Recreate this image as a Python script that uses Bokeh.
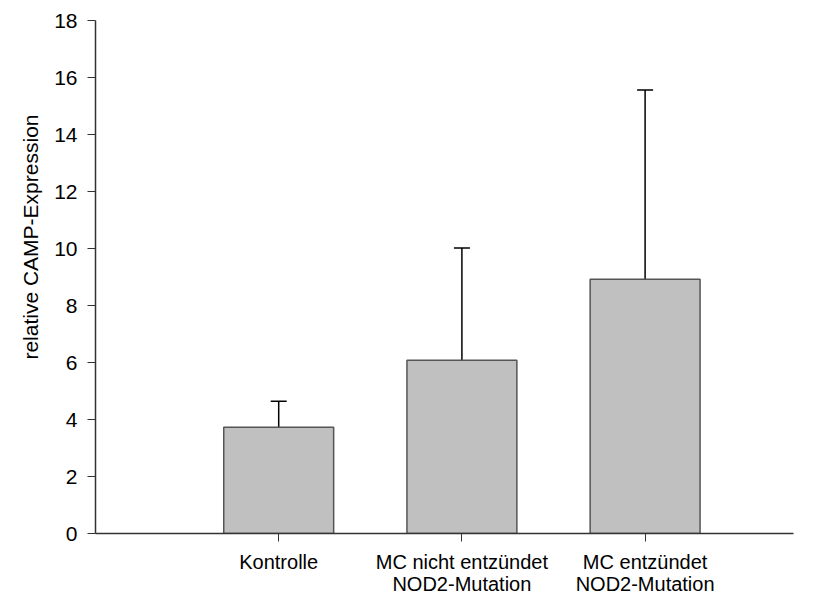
from bokeh.plotting import figure
from bokeh.models import Range1d, FixedTicker, Title, ColumnDataSource, Whisker, TeeHead
from bokeh.embed import file_html
from bokeh.resources import INLINE

categories = ["Kontrolle", "MC nicht entzündet\nNOD2-Mutation", "MC entzündet\nNOD2-Mutation"]
positions = [1, 2, 3]
means = [3.73, 6.08, 8.92]
upper_err = [4.64, 10.02, 15.56]
y_ticks = [0, 2, 4, 6, 8, 10, 12, 14, 16, 18]

FONT = "Liberation Sans"

p = figure(width=821, height=597, output_backend="svg", toolbar_location=None,
           x_range=Range1d(0, 3.81), y_range=Range1d(0, 18),
           min_border_left=95, min_border_right=28, min_border_top=20, min_border_bottom=63)
p.outline_line_color = None
p.xgrid.visible = False
p.ygrid.visible = False
p.background_fill_color = "white"
p.border_fill_color = "white"

src = ColumnDataSource(dict(x=positions, top=means, up=upper_err, lo=means))
p.vbar(x="x", top="top", bottom=0, width=0.6, source=src,
       fill_color="#c0c0c0", line_color="#555555", line_width=1.5)

w = Whisker(base="x", upper="up", lower="lo", source=src,
            line_color="black", line_width=1.5,
            lower_head=None,
            upper_head=TeeHead(size=16, line_color="black", line_width=1.5))
p.add_layout(w)

# y axis
ya = p.yaxis[0]
ya.ticker = FixedTicker(ticks=y_ticks)
ya.minor_tick_line_color = None
ya.major_tick_in = 0
ya.major_tick_out = 8
ya.major_tick_line_color = "#333333"
ya.axis_line_color = "#333333"
ya.axis_line_width = 1.5
ya.major_label_text_font = FONT
ya.major_label_text_font_size = "21px"
ya.major_label_text_color = "black"
ya.major_label_standoff = 10

# x axis
xa = p.xaxis[0]
xa.ticker = FixedTicker(ticks=positions)
xa.major_label_overrides = {pos: lab for pos, lab in zip(positions, categories)}
xa.minor_tick_line_color = None
xa.major_tick_in = 0
xa.major_tick_out = 8
xa.major_tick_line_color = "#333333"
xa.axis_line_color = "#333333"
xa.axis_line_width = 1.5
xa.major_label_text_font = FONT
xa.major_label_text_font_size = "20px"
xa.major_label_text_color = "black"
xa.major_label_text_line_height = 1.0
xa.major_label_standoff = 9
xa.axis_label_standoff = 0

t = Title(text="relative CAMP-Expression", align="right", offset=94, standoff=20,
          text_font=FONT, text_font_size="21px", text_font_style="normal",
          text_color="black")
p.add_layout(t, "left")

open("out.html", "w").write(file_html(p, INLINE))
